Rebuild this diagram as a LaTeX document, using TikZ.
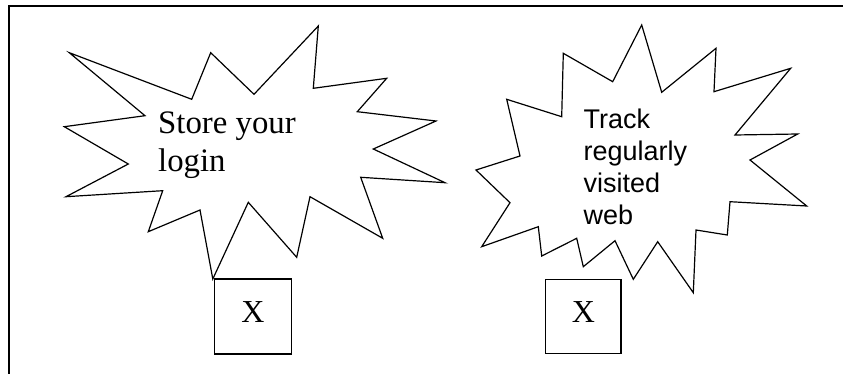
\documentclass[tikz,border=0pt]{standalone}
\usepackage{fontspec}
\setmainfont{Liberation Serif}
\newfontfamily\arialfont{Liberation Sans}
\begin{document}
\begin{tikzpicture}[x=1pt,y=-1pt,
  starline/.style={draw=black,line width=1.2pt,line join=miter},
  xbox/.style={draw=black,line width=1.2pt,inner sep=0pt,font=\fontsize{32}{38}\selectfont,text height=21pt,text depth=9pt},
  serifnote/.style={inner sep=0pt,anchor=base west,align=left,font=\fontsize{32.8}{38}\selectfont},
  sansnote/.style={inner sep=0pt,anchor=base west,align=left,font=\arialfont\fontsize{27}{32.3}\selectfont}]
\useasboundingbox (0,0) rectangle (843,374);
% frame
\draw[line width=2pt,line join=miter] (843,6) -- (9,6) -- (9,374);
% left star
\draw[starline] (69.3,52.7) -- (191.7,99.3) -- (210.7,52.7) -- (254,94.3) -- (318.3,26)
  -- (313.3,88.3) -- (386.7,78.3) -- (357.3,111.7) -- (436,121) -- (373.3,149)
  -- (445,182.7) -- (360.7,177.3) -- (382.7,238.3) -- (310,196.7) -- (296.7,257.3)
  -- (248.3,202.3) -- (212.8,279) -- (200,210) -- (148.3,231.7) -- (162.7,190.7)
  -- (66,196.7) -- (128.3,164) -- (64.3,126.7) -- (145,115.7) -- cycle;
% right star
\draw[starline] (641.7,25) -- (661.7,92.3) -- (716,48.3) -- (714,91.7) -- (790.7,68.3)
  -- (735,135) -- (797.7,134) -- (750,160) -- (806.7,206) -- (730,201.7)
  -- (727.3,235) -- (696,230) -- (693.3,292.7) -- (657.7,241.7) -- (633.3,279.3)
  -- (615,240.7) -- (583.3,266.7) -- (576.7,238.3) -- (541.7,256) -- (538.3,226.7)
  -- (481.7,246.7) -- (510,202.7) -- (476,170) -- (520,156) -- (506.7,99.3)
  -- (561.7,116.7) -- (563.3,53.3) -- (612.7,81.7) -- cycle;
% texts (base anchor = last line's baseline)
\node[serifnote] (login) at (158,171.5) {Store your\\login};
\node[sansnote] (track) at (583.5,225) {Track\\regularly\\visited\\web};
% boxes
\node[xbox,minimum width=77.4pt,minimum height=75pt] (box1) at (253,316.5) {X};
\node[xbox,minimum width=75.3pt,minimum height=74pt] (box2) at (583.3,316.3) {X};
\end{tikzpicture}
\end{document}
